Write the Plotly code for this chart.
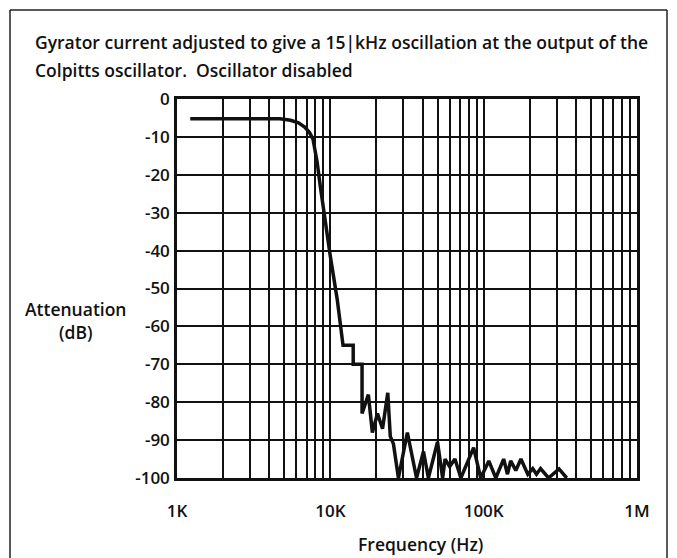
import plotly.graph_objects as go

# ---- data ----
freq_khz = [1.22, 4.7, 5.5, 6.2, 6.8, 7.3, 7.7, 8.2, 8.6, 9.0, 9.3, 10.0, 11.1, 11.9,
            12.1, 14.1, 14.1, 16.1, 16.1, 17.7, 18.8, 20.3, 21.9, 23.7, 24.6, 25.8,
            27.8, 31.8, 36.5, 40.5, 43.6, 50.0, 54.0, 56.0, 60.0, 65.0, 71.0, 86.0,
            95.6, 108.0, 120.0, 135.0, 143.0, 150.0, 162.0, 175.0, 194.0, 209.0, 221.0,
            235.0, 265.0, 310.0, 348.0]
atten_db = [-5.2, -5.2, -5.6, -6.3, -7.4, -8.8, -10.5, -16.6, -23, -28.7, -33, -41.5, -53, -61.6,
            -65, -65, -70, -70, -83, -78, -88, -83, -87, -77.5, -89, -91,
            -100, -88, -100, -93, -100, -90.5, -100, -95, -97, -95, -100, -92,
            -100, -95.5, -100, -95, -99, -95.5, -98, -95, -99, -97.5, -99,
            -97.5, -100, -97.6, -100]

x_tick_vals = [1e3, 1e4, 1e5, 1e6]
x_tick_text = ["1K", "10K", "100K", "1M"]
y_tick_vals = [0, -10, -20, -30, -40, -50, -60, -70, -80, -90, -100]
y_tick_text = ["0", "-10", "-20", "-30", "-40", "-50", "-60", "-70", "-80", "-90", "-100"]

title_line1 = "Gyrator current adjusted to give a 15|kHz oscillation at the output of the"
title_line2 = "Colpitts oscillator.  Oscillator disabled"
y_title = "Attenuation<br>(dB)"
x_title = "Frequency (Hz)"

minor_vals = [m * 10 ** e for e in range(3, 6) for m in range(2, 10)]

FONT = "Open Sans"
INK = "#111111"

fig = go.Figure()
fig.add_trace(go.Scatter(
    x=[f * 1000 for f in freq_khz], y=atten_db, mode="lines",
    line=dict(color=INK, width=3.5), showlegend=False, hoverinfo="skip"))

W, H = 677, 558
L, R, T, B = 177, 40, 99, 80
pw, ph = W - L - R, H - T - B

fig.update_layout(
    width=W, height=H,
    margin=dict(l=L, r=R, t=T, b=B, autoexpand=False),
    paper_bgcolor="white", plot_bgcolor="white",
    font=dict(family=FONT, color=INK),
    xaxis=dict(type="log", range=[3, 6], tickvals=x_tick_vals, ticktext=x_tick_text,
               showgrid=True, gridcolor=INK, gridwidth=2,
               showline=True, mirror=True, linecolor=INK, linewidth=2.5,
               ticks="", tickfont=dict(size=17, family=FONT, weight=600), ticklabelstandoff=16,
               minor=dict(tickvals=minor_vals, showgrid=True, gridcolor=INK, gridwidth=2),
               zeroline=False, fixedrange=True),
    yaxis=dict(range=[-100, 0], tickvals=y_tick_vals, ticktext=y_tick_text,
               showgrid=True, gridcolor=INK, gridwidth=2,
               showline=True, mirror=True, linecolor=INK, linewidth=2.5,
               ticks="", tickfont=dict(size=17, family=FONT, weight=600), ticklabelstandoff=1,
               zeroline=False, fixedrange=True),
)

def px_x(px):
    return (px - L) / pw

def px_y(py):
    return (H - B - py) / ph

annos = [
    dict(text=title_line1, x=px_x(33), y=px_y(42), xanchor="left", yanchor="middle",
         font=dict(size=17.5, weight=600)),
    dict(text=title_line2, x=px_x(33), y=px_y(70), xanchor="left", yanchor="middle",
         font=dict(size=17.5, weight=600)),
    dict(text=y_title, x=px_x(75), y=px_y(320), xanchor="center", yanchor="middle",
         font=dict(size=17.5, weight=600)),
    dict(text=x_title, x=px_x(420), y=px_y(544), xanchor="center", yanchor="middle",
         font=dict(size=17.5, weight=600)),
]
for a in annos:
    a.update(xref="paper", yref="paper", showarrow=False, align="center")
    fig.add_annotation(**a)

# outer frame around the whole figure (left, top, right edges)
frame_line = dict(color="#222222", width=1.5)
for x0, y0, x1, y1 in [(10, 10, 10, 600), (10, 10, 667, 10), (667, 10, 667, 600)]:
    fig.add_shape(type="line", xref="paper", yref="paper",
                  x0=px_x(x0), y0=px_y(y0), x1=px_x(x1), y1=px_y(y1), line=frame_line)

fig.write_html("out.html", config={"displayModeBar": False},
               post_script="document.body.style.margin='0';")
